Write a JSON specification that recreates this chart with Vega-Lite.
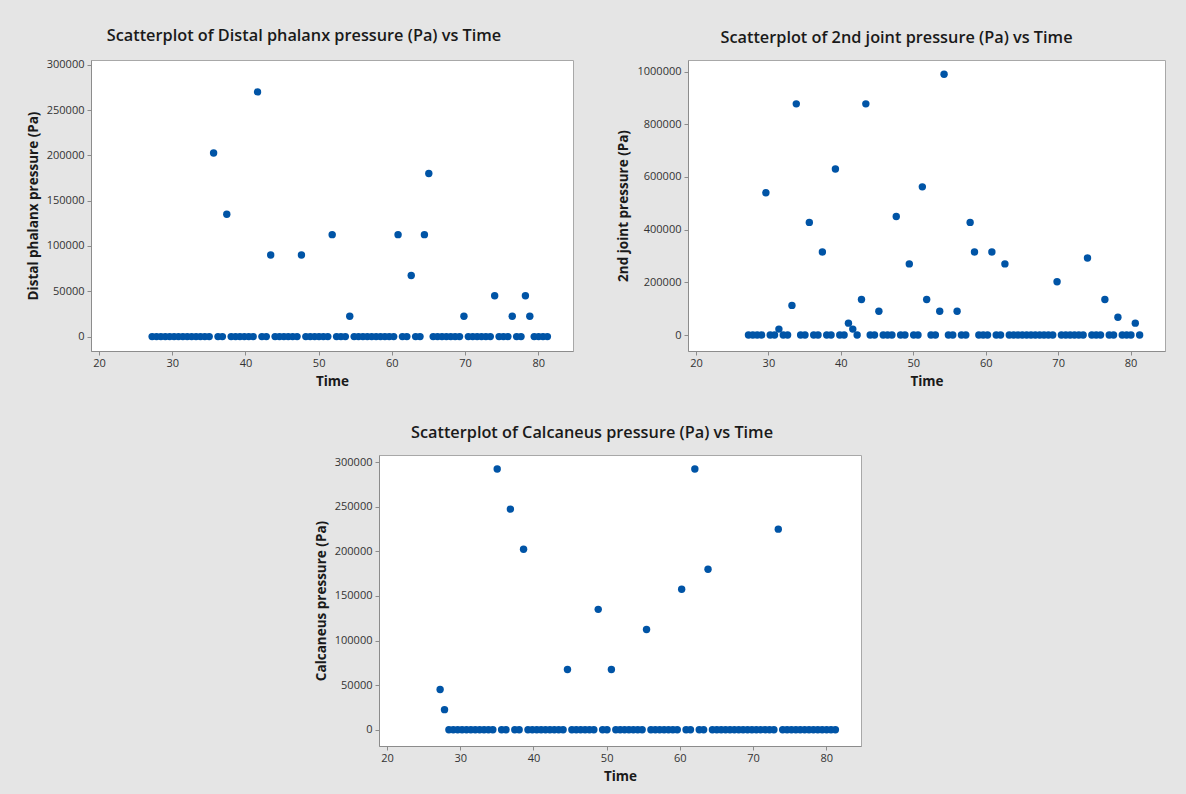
{
  "$schema": "https://vega.github.io/schema/vega-lite/v6.json",
  "background": "#e5e5e5",
  "padding": {"left": 25, "top": 27, "right": 20, "bottom": 12},
  "bounds": "flush",
  "spacing": 395,
  "data": {"values": [
    {"t": 27.25, "d": 0, "j": 0, "c": 45000},
    {"t": 27.85, "d": 0, "j": 0, "c": 22500},
    {"t": 28.45, "d": 0, "j": 0, "c": 0},
    {"t": 29.05, "d": 0, "j": 0, "c": 0},
    {"t": 29.65, "d": 0, "j": 540000, "c": 0},
    {"t": 30.25, "d": 0, "j": 0, "c": 0},
    {"t": 30.85, "d": 0, "j": 0, "c": 0},
    {"t": 31.45, "d": 0, "j": 22500, "c": 0},
    {"t": 32.05, "d": 0, "j": 0, "c": 0},
    {"t": 32.65, "d": 0, "j": 0, "c": 0},
    {"t": 33.25, "d": 0, "j": 112500, "c": 0},
    {"t": 33.85, "d": 0, "j": 877500, "c": 0},
    {"t": 34.45, "d": 0, "j": 0, "c": 0},
    {"t": 35.05, "d": 0, "j": 0, "c": 292500},
    {"t": 35.65, "d": 202500, "j": 427500, "c": 0},
    {"t": 36.25, "d": 0, "j": 0, "c": 0},
    {"t": 36.85, "d": 0, "j": 0, "c": 247500},
    {"t": 37.45, "d": 135000, "j": 315000, "c": 0},
    {"t": 38.05, "d": 0, "j": 0, "c": 0},
    {"t": 38.65, "d": 0, "j": 0, "c": 202500},
    {"t": 39.25, "d": 0, "j": 630000, "c": 0},
    {"t": 39.85, "d": 0, "j": 0, "c": 0},
    {"t": 40.45, "d": 0, "j": 0, "c": 0},
    {"t": 41.05, "d": 0, "j": 45000, "c": 0},
    {"t": 41.65, "d": 270000, "j": 22500, "c": 0},
    {"t": 42.25, "d": 0, "j": 0, "c": 0},
    {"t": 42.85, "d": 0, "j": 135000, "c": 0},
    {"t": 43.45, "d": 90000, "j": 877500, "c": 0},
    {"t": 44.05, "d": 0, "j": 0, "c": 0},
    {"t": 44.65, "d": 0, "j": 0, "c": 67500},
    {"t": 45.25, "d": 0, "j": 90000, "c": 0},
    {"t": 45.85, "d": 0, "j": 0, "c": 0},
    {"t": 46.45, "d": 0, "j": 0, "c": 0},
    {"t": 47.05, "d": 0, "j": 0, "c": 0},
    {"t": 47.65, "d": 90000, "j": 450000, "c": 0},
    {"t": 48.25, "d": 0, "j": 0, "c": 0},
    {"t": 48.85, "d": 0, "j": 0, "c": 135000},
    {"t": 49.45, "d": 0, "j": 270000, "c": 0},
    {"t": 50.05, "d": 0, "j": 0, "c": 0},
    {"t": 50.65, "d": 0, "j": 0, "c": 67500},
    {"t": 51.25, "d": 0, "j": 562500, "c": 0},
    {"t": 51.85, "d": 112500, "j": 135000, "c": 0},
    {"t": 52.45, "d": 0, "j": 0, "c": 0},
    {"t": 53.05, "d": 0, "j": 0, "c": 0},
    {"t": 53.65, "d": 0, "j": 90000, "c": 0},
    {"t": 54.25, "d": 22500, "j": 990000, "c": 0},
    {"t": 54.85, "d": 0, "j": 0, "c": 0},
    {"t": 55.45, "d": 0, "j": 0, "c": 112500},
    {"t": 56.05, "d": 0, "j": 90000, "c": 0},
    {"t": 56.65, "d": 0, "j": 0, "c": 0},
    {"t": 57.25, "d": 0, "j": 0, "c": 0},
    {"t": 57.85, "d": 0, "j": 427500, "c": 0},
    {"t": 58.45, "d": 0, "j": 315000, "c": 0},
    {"t": 59.05, "d": 0, "j": 0, "c": 0},
    {"t": 59.65, "d": 0, "j": 0, "c": 0},
    {"t": 60.25, "d": 0, "j": 0, "c": 157500},
    {"t": 60.85, "d": 112500, "j": 315000, "c": 0},
    {"t": 61.45, "d": 0, "j": 0, "c": 0},
    {"t": 62.05, "d": 0, "j": 0, "c": 292500},
    {"t": 62.65, "d": 67500, "j": 270000, "c": 0},
    {"t": 63.25, "d": 0, "j": 0, "c": 0},
    {"t": 63.85, "d": 0, "j": 0, "c": 180000},
    {"t": 64.45, "d": 112500, "j": 0, "c": 0},
    {"t": 65.05, "d": 180000, "j": 0, "c": 0},
    {"t": 65.65, "d": 0, "j": 0, "c": 0},
    {"t": 66.25, "d": 0, "j": 0, "c": 0},
    {"t": 66.85, "d": 0, "j": 0, "c": 0},
    {"t": 67.45, "d": 0, "j": 0, "c": 0},
    {"t": 68.05, "d": 0, "j": 0, "c": 0},
    {"t": 68.65, "d": 0, "j": 0, "c": 0},
    {"t": 69.25, "d": 0, "j": 0, "c": 0},
    {"t": 69.85, "d": 22500, "j": 202500, "c": 0},
    {"t": 70.45, "d": 0, "j": 0, "c": 0},
    {"t": 71.05, "d": 0, "j": 0, "c": 0},
    {"t": 71.65, "d": 0, "j": 0, "c": 0},
    {"t": 72.25, "d": 0, "j": 0, "c": 0},
    {"t": 72.85, "d": 0, "j": 0, "c": 0},
    {"t": 73.45, "d": 0, "j": 0, "c": 225000},
    {"t": 74.05, "d": 45000, "j": 292500, "c": 0},
    {"t": 74.65, "d": 0, "j": 0, "c": 0},
    {"t": 75.25, "d": 0, "j": 0, "c": 0},
    {"t": 75.85, "d": 0, "j": 0, "c": 0},
    {"t": 76.45, "d": 22500, "j": 135000, "c": 0},
    {"t": 77.05, "d": 0, "j": 0, "c": 0},
    {"t": 77.65, "d": 0, "j": 0, "c": 0},
    {"t": 78.25, "d": 45000, "j": 67500, "c": 0},
    {"t": 78.85, "d": 22500, "j": 0, "c": 0},
    {"t": 79.45, "d": 0, "j": 0, "c": 0},
    {"t": 80.05, "d": 0, "j": 0, "c": 0},
    {"t": 80.65, "d": 0, "j": 45000, "c": 0},
    {"t": 81.25, "d": 0, "j": 0, "c": 0}
  ]},
  "config": {
    "view": {"fill": "white", "stroke": "#a8a8a8", "strokeWidth": 1},
    "font": "Open Sans",
    "title": {"fontSize": 16.3, "fontWeight": 600, "color": "#1a1a1a", "offset": 14, "anchor": "middle", "frame": "group"},
    "axis": {"grid": false, "domainColor": "#8c8c8c", "tickColor": "#8c8c8c", "tickSize": 4, "labelFontSize": 11, "labelColor": "#333333", "labelPadding": 3, "titleFontSize": 13.5, "titleFontWeight": "bold", "titleColor": "#1a1a1a", "titlePadding": 6},
    "axisX": {"labelPadding": 2, "titlePadding": 6}
  },
  "vconcat": [
    {
      "bounds": "flush",
      "spacing": 115,
      "hconcat": [
        {
          "width": 482, "height": 291,
          "title": {"text": "Scatterplot of Distal phalanx pressure (Pa) vs Time", "dx": -28},
          "mark": {"type": "circle", "size": 55, "opacity": 1, "color": "#0054a6"},
          "encoding": {
            "x": {"field": "t", "type": "quantitative", "scale": {"domain": [18.9, 84.75], "nice": false, "zero": false}, "axis": {"values": [20, 30, 40, 50, 60, 70, 80], "title": "Time"}},
            "y": {"field": "d", "type": "quantitative", "scale": {"domain": [-15900, 305200], "nice": false, "zero": false}, "axis": {"values": [0, 50000, 100000, 150000, 200000, 250000, 300000], "format": "d", "title": "Distal phalanx pressure (Pa)"}}
          }
        },
        {
          "width": 477, "height": 291,
          "title": {"text": "Scatterplot of 2nd joint pressure (Pa) vs Time", "dx": -30},
          "mark": {"type": "circle", "size": 55, "opacity": 1, "color": "#0054a6"},
          "encoding": {
            "x": {"field": "t", "type": "quantitative", "scale": {"domain": [18.9, 84.75], "nice": false, "zero": false}, "axis": {"values": [20, 30, 40, 50, 60, 70, 80], "title": "Time"}},
            "y": {"field": "j", "type": "quantitative", "scale": {"domain": [-60700, 1044000], "nice": false, "zero": false}, "axis": {"values": [0, 200000, 400000, 600000, 800000, 1000000], "format": "d", "title": "2nd joint pressure (Pa)"}}
          }
        }
      ]
    },
    {
      "bounds": "flush",
      "spacing": 287,
      "hconcat": [
        {
          "width": 1, "height": 291,
          "view": {"stroke": null, "fill": null},
          "mark": {"type": "point", "opacity": 0},
          "encoding": {}
        },
        {
          "width": 482, "height": 291,
          "title": {"text": "Scatterplot of Calcaneus pressure (Pa) vs Time", "dx": -28},
          "mark": {"type": "circle", "size": 55, "opacity": 1, "color": "#0054a6"},
          "encoding": {
            "x": {"field": "t", "type": "quantitative", "scale": {"domain": [18.9, 84.75], "nice": false, "zero": false}, "axis": {"values": [20, 30, 40, 50, 60, 70, 80], "title": "Time"}},
            "y": {"field": "c", "type": "quantitative", "scale": {"domain": [-18300, 308200], "nice": false, "zero": false}, "axis": {"values": [0, 50000, 100000, 150000, 200000, 250000, 300000], "format": "d", "title": "Calcaneus pressure (Pa)"}}
          }
        }
      ]
    }
  ]
}
